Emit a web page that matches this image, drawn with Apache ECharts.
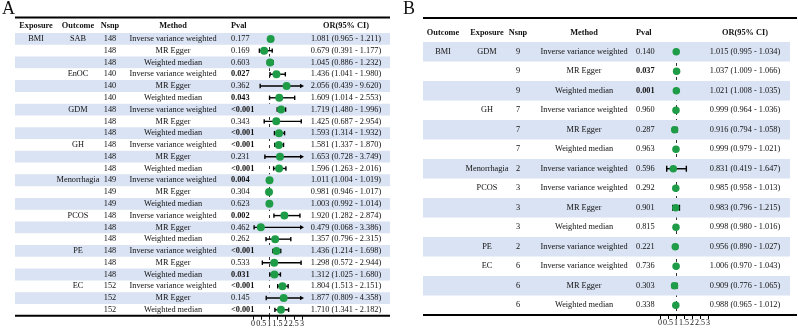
<!DOCTYPE html>
<html>
<head>
<meta charset="utf-8">
<script src="https://cdn.jsdelivr.net/npm/echarts@6/dist/echarts.min.js"></script>
<style>
  html, body { margin: 0; padding: 0; background: #fff; }
  #chart { width: 798px; height: 330px; }
</style>
</head>
<body>
<div id="chart"></div>
<script>
const IVW = 'Inverse variance weighted', EGG = 'MR Egger', WM = 'Weighted median';

// panel A: BMI as exposure
const aExposure = ['BMI', '', '', '', '', '', '', '', '', '', '', '', '', '', '', '', '', '', '', '', '', '', '', ''];
const aOutcome = ['SAB', '', '', 'EnOC', '', '', 'GDM', '', '', 'GH', '', '', 'Menorrhagia', '', '', 'PCOS', '', '', 'PE', '', '', 'EC', '', ''];
const aNsnp = [148, 148, 148, 140, 140, 140, 148, 148, 148, 148, 148, 148, 149, 149, 149, 148, 148, 148, 148, 148, 148, 152, 152, 152];
const aMethod = [IVW, EGG, WM, IVW, EGG, WM, IVW, EGG, WM, IVW, EGG, WM, IVW, EGG, WM, IVW, EGG, WM, IVW, EGG, WM, IVW, EGG, WM];
const aPval = ['0.177', '0.169', '0.603', '0.027', '0.362', '0.043', '<0.001', '0.343', '<0.001', '<0.001', '0.231', '<0.001',
  '0.004', '0.304', '0.623', '0.002', '0.462', '0.262', '<0.001', '0.533', '0.031', '<0.001', '0.145', '<0.001'];
const aOR = [1.081, 0.679, 1.045, 1.436, 2.056, 1.609, 1.719, 1.425, 1.593, 1.581, 1.653, 1.596,
  1.011, 0.981, 1.003, 1.920, 0.479, 1.357, 1.436, 1.298, 1.312, 1.804, 1.877, 1.710];
const aLow = [0.965, 0.391, 0.886, 1.041, 0.439, 1.014, 1.480, 0.687, 1.314, 1.337, 0.728, 1.263,
  1.004, 0.946, 0.992, 1.282, 0.068, 0.796, 1.214, 0.572, 1.025, 1.513, 0.809, 1.341];
const aHigh = [1.211, 1.177, 1.232, 1.980, 9.620, 2.553, 1.996, 2.954, 1.932, 1.870, 3.749, 2.016,
  1.019, 1.017, 1.014, 2.874, 3.386, 2.315, 1.698, 2.944, 1.680, 2.151, 4.358, 2.182];

// panel B: BMI as outcome
const bOutcome = ['BMI', '', '', '', '', '', '', '', '', '', '', '', '', ''];
const bExposure = ['GDM', '', '', 'GH', '', '', 'Menorrhagia', 'PCOS', '', '', 'PE', 'EC', '', ''];
const bNsnp = [9, 9, 9, 7, 7, 7, 2, 3, 3, 3, 2, 6, 6, 6];
const bMethod = [IVW, EGG, WM, IVW, EGG, WM, IVW, IVW, EGG, WM, IVW, IVW, EGG, WM];
const bPval = ['0.140', '0.037', '0.001', '0.960', '0.287', '0.963', '0.596', '0.292', '0.901', '0.815', '0.221', '0.736', '0.303', '0.338'];
const bOR = [1.015, 1.037, 1.021, 0.999, 0.916, 0.999, 0.831, 0.985, 0.983, 0.998, 0.956, 1.006, 0.909, 0.988];
const bLow = [0.995, 1.009, 1.008, 0.964, 0.794, 0.979, 0.419, 0.958, 0.796, 0.980, 0.890, 0.970, 0.776, 0.965];
const bHigh = [1.034, 1.066, 1.035, 1.036, 1.058, 1.021, 1.647, 1.013, 1.215, 1.016, 1.027, 1.043, 1.065, 1.012];

const xTicks = [0, 0.5, 1, 1.5, 2, 2.5, 3];

const FAMILY = '"Liberation Serif", "Times New Roman", serif';
const FS = 8.3;
const STRIPE = '#dae3f3';
const GREEN = '#1f9c48';
const INK = '#111';

const panels = [
  {
    letter: 'A', letterX: 2,
    headers: ['Exposure', 'Outcome', 'Nsnp', 'Method', 'Pval'],
    cols: [aExposure, aOutcome, aNsnp, aMethod, aPval],
    or: aOR, low: aLow, high: aHigh,
    lay: { left: 15, right: 390, lineRight: 390, top: 33, rowH: 11.78, headY: 26, ruleY: 17.5,
      colX: [36, 78, 110, 173, 231], colAlign: ['center', 'center', 'center', 'center', 'left'],
      orX: 346, plotLeft: 253, plotW: 49, dot: 8, cap: 2.2 }
  },
  {
    letter: 'B', letterX: 403,
    headers: ['Outcome', 'Exposure', 'Nsnp', 'Method', 'Pval'],
    cols: [bOutcome, bExposure, bNsnp, bMethod, bPval],
    or: bOR, low: bLow, high: bHigh,
    lay: { left: 423, right: 790, lineRight: 797, top: 42, rowH: 19.5, headY: 33, ruleY: 18,
      colX: [443, 487, 518, 584, 636], colAlign: ['center', 'center', 'center', 'center', 'left'],
      orX: 745, plotLeft: 660, plotW: 48, dot: 7.5, cap: 3 }
  }
];

function isSig(p) {
  return p.charAt(0) === '<' || parseFloat(p) < 0.05;
}

function txt(x, y, text, bold, align, size) {
  return {
    type: 'text', x: x, y: y, z2: 5,
    style: {
      text: text, fill: INK, fontSize: size || FS, fontFamily: FAMILY, fontWeight: bold ? 'bold' : 'normal',
      align: align, verticalAlign: 'middle', textAlign: align, textVerticalAlign: 'middle', legacy: false
    }
  };
}

function orText(p, i) {
  return p.or[i].toFixed(3) + ' (' + p.low[i].toFixed(3) + ' - ' + p.high[i].toFixed(3) + ')';
}

function tableItem(p) {
  return function (params, api) {
    const i = params.dataIndex;
    const y = api.coord([0, i])[1];
    const h = api.size([0, 1])[1];
    const cs = params.coordSys;
    const kids = [];
    if (i % 2 === 0) {
      kids.push({ type: 'rect', shape: { x: cs.x, y: y - h / 2, width: cs.width, height: h }, style: { fill: STRIPE } });
    }
    p.cols.forEach(function (arr, c) {
      const v = arr[i];
      if (v === '' || v == null) return;
      kids.push(txt(p.lay.colX[c], y, String(v), c === 4 && isSig(String(v)), p.lay.colAlign[c]));
    });
    kids.push(txt(p.lay.orX, y, orText(p, i), false, 'center'));
    return { type: 'group', children: kids };
  };
}

function arrow(x, y, dir) {
  return { type: 'polygon', shape: { points: [[x + dir * 2, y], [x - dir * 2, y - 2.3], [x - dir * 2, y + 2.3]] }, style: { fill: '#000' } };
}

function ciItem(p) {
  const xMin = xTicks[0], xMax = xTicks[xTicks.length - 1];
  return function (params, api) {
    const i = params.dataIndex;
    const lo = api.value(0), hi = api.value(1);
    const y = api.coord([xMin, i])[1];
    const x1 = api.coord([Math.max(lo, xMin), i])[0];
    const x2 = api.coord([Math.min(hi, xMax), i])[0];
    const c = p.lay.cap;
    const st = { stroke: '#000', lineWidth: 1.4 };
    const kids = [{ type: 'line', shape: { x1: x1, y1: y, x2: x2, y2: y }, style: st }];
    kids.push(lo < xMin ? arrow(x1, y, -1) : { type: 'line', shape: { x1: x1, y1: y - c, x2: x1, y2: y + c }, style: st });
    kids.push(hi > xMax ? arrow(x2, y, 1) : { type: 'line', shape: { x1: x2, y1: y - c, x2: x2, y2: y + c }, style: st });
    return { type: 'group', children: kids };
  };
}

const grid = [], xAxis = [], yAxis = [], series = [], graphic = [];

panels.forEach(function (p, k) {
  const L = p.lay;
  const n = p.or.length;
  const rows = p.or.map(function (_, i) { return 'r' + i; });
  const height = n * L.rowH;
  const tg = 2 * k, pg = 2 * k + 1;

  grid.push({ left: L.left, top: L.top, width: L.right - L.left, height: height, containLabel: false, outerBoundsMode: 'none' });
  grid.push({ left: L.plotLeft, top: L.top, width: L.plotW, height: height, containLabel: false, outerBoundsMode: 'none' });

  xAxis.push({ gridIndex: tg, type: 'value', min: 0, max: 1, show: false });
  xAxis.push({
    gridIndex: pg, type: 'value', min: xTicks[0], max: xTicks[xTicks.length - 1], interval: xTicks[1] - xTicks[0],
    axisLine: { show: true, lineStyle: { color: '#000', width: 1 } },
    axisTick: { show: true, length: 4, lineStyle: { color: '#000' } },
    axisLabel: { fontSize: 8, color: INK, margin: 4, fontFamily: FAMILY, hideOverlap: false },
    splitLine: { show: false }
  });
  yAxis.push({ gridIndex: tg, type: 'category', data: rows, inverse: true, show: false });
  yAxis.push({ gridIndex: pg, type: 'category', data: rows, inverse: true, show: false });

  series.push({
    type: 'custom', xAxisIndex: tg, yAxisIndex: tg, silent: true, z: 1,
    encode: { x: 0, y: 1 },
    data: rows.map(function (r) { return [0.5, r]; }),
    renderItem: tableItem(p)
  });
  series.push({
    type: 'custom', xAxisIndex: pg, yAxisIndex: pg, silent: true, z: 2,
    encode: { x: [0, 1], y: 2 },
    data: rows.map(function (r, i) { return [p.low[i], p.high[i], r]; }),
    renderItem: ciItem(p)
  });
  series.push({
    type: 'scatter', xAxisIndex: pg, yAxisIndex: pg, silent: true, z: 3,
    symbol: 'circle', symbolSize: L.dot,
    itemStyle: { color: GREEN, opacity: 1 },
    data: rows.map(function (r, i) { return [p.or[i], r]; }),
    markLine: {
      silent: true, symbol: 'none', label: { show: false }, z: 1,
      lineStyle: { type: [3, 4], color: '#333', width: 1 },
      data: [{ xAxis: 1 }]
    }
  });

  // panel letter, rules and header
  graphic.push({ type: 'text', x: p.letterX, y: 0, z: 10,
    style: { text: p.letter, fill: INK, fontSize: 18, fontFamily: FAMILY, align: 'left', verticalAlign: 'top', textAlign: 'left', textVerticalAlign: 'top', legacy: false } });
  graphic.push({ type: 'line', z: 10, shape: { x1: L.left, y1: L.ruleY, x2: L.lineRight, y2: L.ruleY }, style: { stroke: '#000', lineWidth: 2 } });
  graphic.push({ type: 'line', z: 10, shape: { x1: L.left, y1: L.top + height, x2: L.lineRight, y2: L.top + height }, style: { stroke: '#000', lineWidth: 2 } });
  p.headers.forEach(function (h, c) {
    const t = txt(L.colX[c], L.headY, h, true, L.colAlign[c]);
    t.z = 10;
    graphic.push(t);
  });
  const oh = txt(L.orX, L.headY, 'OR(95% CI)', true, 'center');
  oh.z = 10;
  graphic.push(oh);
});

const chart = echarts.init(document.getElementById('chart'), null, { renderer: 'canvas' });
chart.setOption({
  animation: false,
  backgroundColor: '#fff',
  grid: grid,
  xAxis: xAxis,
  yAxis: yAxis,
  series: series,
  graphic: graphic
});
</script>
</body>
</html>
